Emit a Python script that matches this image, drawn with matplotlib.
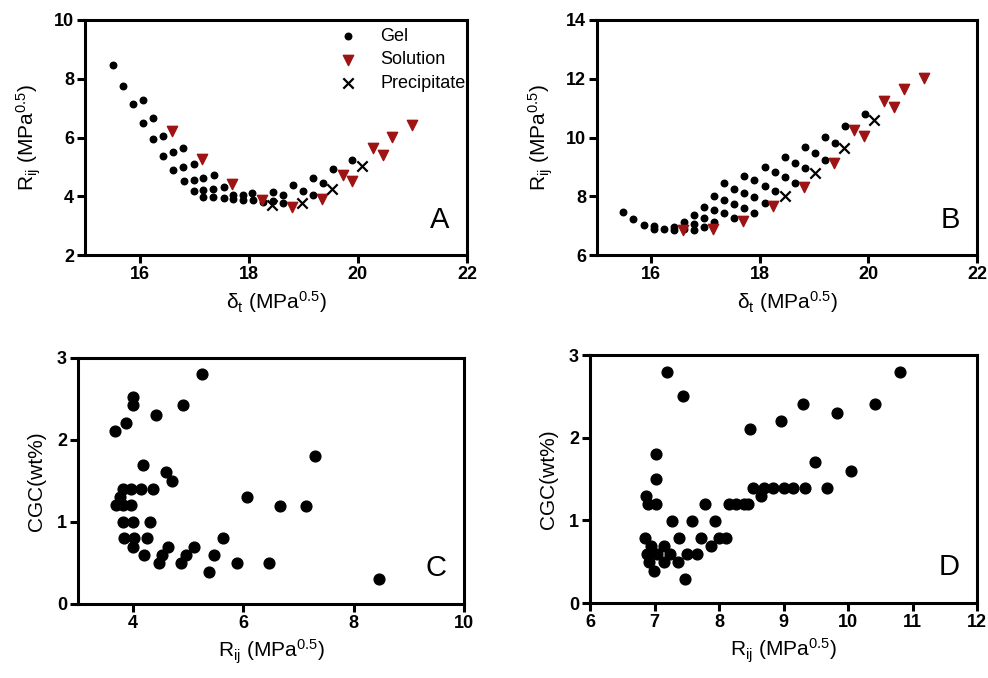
import matplotlib
matplotlib.use("Agg")
import matplotlib.pyplot as plt

plt.rcParams['font.family'] = ['Liberation Sans', 'DejaVu Sans']
plt.rcParams['mathtext.fontset'] = 'custom'
plt.rcParams['mathtext.rm'] = 'Liberation Sans'
plt.rcParams['mathtext.it'] = 'Liberation Sans'

# ---------------- Panel A data ----------------
gelA_x = [15.51, 15.69, 15.88, 16.06, 16.06, 16.25, 16.25, 16.43, 16.43, 16.62, 16.80,
          16.62, 16.80, 16.99, 16.81, 16.99, 17.17, 17.36, 16.99, 17.17, 17.35, 17.54,
          17.17, 17.35, 17.54, 17.72, 17.90, 18.08, 18.26, 17.72, 17.90, 18.06,
          18.45, 18.63, 18.81, 18.99, 19.17, 19.36, 19.54, 19.90, 18.45, 19.17, 18.63]
gelA_y = [8.46, 7.76, 7.13, 7.29, 6.50, 6.66, 5.94, 6.06, 5.38, 5.49, 5.65,
          4.90, 4.98, 5.10, 4.51, 4.55, 4.61, 4.73, 4.19, 4.22, 4.25, 4.31,
          3.99, 3.97, 3.94, 3.91, 3.88, 3.86, 3.82, 4.05, 4.05, 4.10,
          4.16, 4.05, 4.39, 4.18, 4.62, 4.44, 4.92, 5.24, 3.84, 4.05, 3.76]
solA_x = [16.59, 17.15, 17.70, 18.25, 18.79, 19.35, 19.72, 19.90, 20.27, 20.46, 20.63, 20.99]
solA_y = [6.23, 5.26, 4.42, 3.88, 3.63, 3.90, 4.73, 4.52, 5.63, 5.40, 6.03, 6.43]
preA_x = [18.42, 18.97, 19.53, 20.08]
preA_y = [3.71, 3.77, 4.25, 5.04]

# ---------------- Panel B data ----------------
gelB_x = [15.48, 15.67, 15.87, 16.05, 16.05, 16.23, 16.42, 16.42, 16.60, 16.60,
          16.79, 16.79, 16.79, 16.97, 16.97, 16.97, 17.15, 17.15, 17.15,
          17.34, 17.34, 17.34, 17.52, 17.52, 17.52, 17.71, 17.71, 17.71,
          17.89, 17.89, 17.89, 18.10, 18.10, 18.10, 18.28, 18.28, 18.47, 18.47,
          18.65, 18.65, 18.84, 18.84, 19.02, 19.20, 19.20, 19.39, 19.57, 19.94]
gelB_y = [7.46, 7.21, 7.02, 7.00, 6.90, 6.88, 6.96, 6.85, 7.13, 6.90,
          7.36, 7.05, 6.85, 7.64, 7.25, 6.94, 8.01, 7.53, 7.13,
          8.44, 7.87, 7.42, 8.23, 7.73, 7.25, 8.70, 8.10, 7.59,
          8.55, 7.96, 7.42, 9.00, 8.35, 7.78, 8.83, 8.19, 9.32, 8.64,
          9.14, 8.46, 9.68, 8.95, 9.48, 10.02, 9.25, 9.82, 10.39, 10.80]
solB_x = [16.59, 17.14, 17.69, 18.25, 18.81, 19.36, 19.74, 19.92, 20.29, 20.48, 20.66, 21.03]
solB_y = [6.85, 6.87, 7.17, 7.67, 8.32, 9.12, 10.25, 10.05, 11.24, 11.05, 11.64, 12.04]
preB_x = [18.46, 19.01, 19.55, 20.11]
preB_y = [8.01, 8.78, 9.63, 10.59]

# ---------------- Panel C data ----------------
C_x = [5.24, 4.00, 4.00, 4.90, 4.42, 3.87, 3.68, 4.18, 4.60, 4.71, 7.30,
       3.82, 3.97, 4.15, 4.36, 3.76, 3.69, 3.82, 3.97, 6.06, 6.67, 7.14,
       3.82, 3.99, 4.30, 3.83, 4.02, 4.25, 3.99, 5.63, 4.63, 5.10,
       4.20, 4.52, 4.95, 5.46, 4.47, 4.87, 5.89, 6.47, 5.37, 8.45]
C_y = [2.81, 2.52, 2.43, 2.43, 2.30, 2.21, 2.11, 1.70, 1.61, 1.50, 1.80,
       1.40, 1.40, 1.40, 1.40, 1.31, 1.21, 1.21, 1.21, 1.30, 1.20, 1.20,
       1.00, 1.00, 1.00, 0.80, 0.80, 0.80, 0.69, 0.80, 0.70, 0.70,
       0.60, 0.60, 0.60, 0.60, 0.50, 0.50, 0.50, 0.50, 0.39, 0.30]

# ---------------- Panel D data ----------------
D_x = [7.20, 7.44, 10.81, 9.30, 8.96, 9.83, 10.42, 8.48, 7.03, 7.03, 9.49, 10.04,
       6.87, 6.90, 7.03, 7.78, 8.16, 8.27, 8.39, 8.45,
       8.53, 8.69, 8.83, 9.01, 9.15, 9.34, 9.68, 8.65,
       7.27, 7.58, 7.94, 6.85, 7.38, 7.72, 8.00, 8.11,
       6.95, 7.14, 7.87, 6.89, 7.04, 7.24, 7.51, 7.66,
       6.92, 7.14, 7.36, 6.99, 7.47]
D_y = [2.80, 2.50, 2.80, 2.41, 2.20, 2.30, 2.41, 2.10, 1.80, 1.50, 1.70, 1.60,
       1.29, 1.20, 1.20, 1.20, 1.20, 1.20, 1.20, 1.20,
       1.39, 1.39, 1.39, 1.39, 1.39, 1.39, 1.39, 1.29,
       0.99, 0.99, 0.99, 0.79, 0.79, 0.79, 0.79, 0.79,
       0.69, 0.69, 0.69, 0.59, 0.59, 0.59, 0.59, 0.59,
       0.49, 0.49, 0.49, 0.39, 0.29]

RED = '#9e1414'
W, H = 988, 678
fig = plt.figure(figsize=(W / 100, H / 100), dpi=100)

def add_ax(l, t, r, b):
    return fig.add_axes([l / W, 1 - b / H, (r - l) / W, (b - t) / H])

axA = add_ax(85, 20, 467, 255)
axB = add_ax(597, 20, 977, 255)
axC = add_ax(78, 358, 464, 604)
axD = add_ax(590, 355, 977, 603)

def style(ax, xlim, ylim, xticks, yticks, xlabel, ylabel, letter):
    ax.set_xlim(*xlim)
    ax.set_ylim(*ylim)
    ax.set_xticks(xticks)
    ax.set_xticklabels([str(v) for v in xticks], fontweight='bold', fontsize=13)
    ax.set_yticks(yticks)
    ax.set_yticklabels([str(v) for v in yticks], fontweight='bold', fontsize=13)
    for s in ax.spines.values():
        s.set_linewidth(2.2)
    ax.tick_params(direction='out', length=6, width=2.2, top=False, right=False, pad=2)
    ax.set_xlabel(xlabel, fontsize=15, labelpad=4)
    ax.set_ylabel(ylabel, fontsize=15, labelpad=8)
    ax.text(0.955, 0.09, letter, transform=ax.transAxes, fontsize=21,
            ha='right', va='bottom')

rij = r'R$_{\mathrm{ij}}$ (MPa$^{0.5}$)'
dt = r'$\mathrm{\delta_t}$ (MPa$^{0.5}$)'

# Panel A
axA.scatter(gelA_x, gelA_y, s=22, color='black', label='Gel', zorder=3)
axA.scatter(solA_x, solA_y, s=55, marker='v', color=RED, label='Solution', zorder=3)
axA.scatter(preA_x, preA_y, s=55, marker='x', color='black', linewidths=1.6,
            label='Precipitate', zorder=4)
style(axA, (15, 22), (2, 10), [16, 18, 20, 22], [2, 4, 6, 8, 10], dt, rij, 'A')
axA.legend(loc='upper right', bbox_to_anchor=(1.03, 1.02), frameon=False,
           fontsize=13, handletextpad=0.8, labelspacing=0.35, borderaxespad=0.3,
           scatterpoints=1)

# Panel B
axB.scatter(gelB_x, gelB_y, s=22, color='black', zorder=3)
axB.scatter(solB_x, solB_y, s=55, marker='v', color=RED, zorder=3)
axB.scatter(preB_x, preB_y, s=55, marker='x', color='black', linewidths=1.6, zorder=4)
style(axB, (15, 22), (6, 14), [16, 18, 20, 22], [6, 8, 10, 12, 14], dt, rij, 'B')

# Panel C
axC.scatter(C_x, C_y, s=60, color='black', zorder=3)
style(axC, (3, 10), (0, 3), [4, 6, 8, 10], [0, 1, 2, 3], rij, 'CGC(wt%)', 'C')

# Panel D
axD.scatter(D_x, D_y, s=60, color='black', zorder=3)
style(axD, (6, 12), (0, 3), [6, 7, 8, 9, 10, 11, 12], [0, 1, 2, 3], rij, 'CGC(wt%)', 'D')

fig.savefig('out.png', dpi=100)
